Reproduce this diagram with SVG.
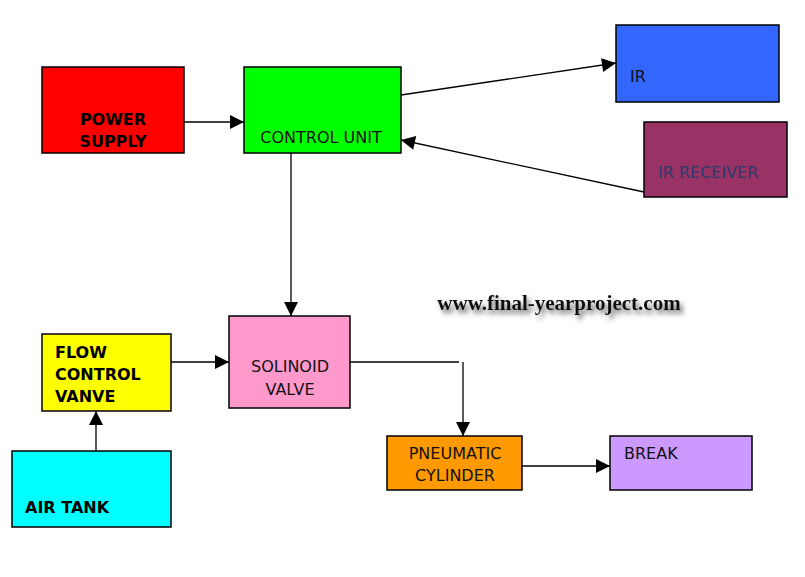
<svg xmlns="http://www.w3.org/2000/svg" width="805" height="577" viewBox="0 0 805 577">
<style>
.b{stroke:#000;stroke-width:1.5}
.t{font-family:"DejaVu Sans",sans-serif;font-size:16px;fill:#111}
.tb{font-family:"DejaVu Sans",sans-serif;font-size:16px;font-weight:bold;fill:#000}
.c{stroke:#000;stroke-width:1.3;fill:none}
</style>
<defs>
<marker id="a" viewBox="0 0 10 10" refX="10" refY="5" markerWidth="18" markerHeight="14" markerUnits="userSpaceOnUse" orient="auto"><path d="M0,0L10,5L0,10z" fill="#000"/></marker>
<filter id="sh" x="-10%" y="-60%" width="120%" height="220%">
<feGaussianBlur in="SourceAlpha" stdDeviation="2.5"/><feOffset dx="3" dy="4" result="o"/>
<feFlood flood-color="#555" flood-opacity="0.9"/><feComposite in2="o" operator="in"/>
<feMerge><feMergeNode/><feMergeNode in="SourceGraphic"/></feMerge>
</filter>
</defs>
<rect width="805" height="577" fill="#fff"/>
<g id="power"><rect class="b" x="42" y="67" width="142" height="86" fill="#ff0000"/><text class="tb" x="113" y="125" text-anchor="middle">POWER</text><text class="tb" x="113" y="147" text-anchor="middle">SUPPLY</text></g>
<g id="control"><rect class="b" x="244" y="67" width="157" height="86" fill="#00ff00"/><text class="t" x="321" y="143" text-anchor="middle">CONTROL UNIT</text></g>
<g id="ir"><rect class="b" x="616" y="25" width="163" height="77" fill="#3366ff"/><text class="t" x="630" y="82">IR</text></g>
<g id="irrx"><rect class="b" x="644" y="122" width="143" height="75" fill="#993366"/><text class="t" x="658" y="178" style="fill:#2a3a6a">IR RECEIVER</text></g>
<g id="sol"><rect class="b" x="229" y="316" width="121" height="92" fill="#ff99cc"/><text class="t" x="290" y="372" text-anchor="middle">SOLINOID</text><text class="t" x="290" y="395" text-anchor="middle">VALVE</text></g>
<g id="flow"><rect class="b" x="42" y="334" width="129" height="77" fill="#ffff00"/><text class="tb" x="55" y="358">FLOW</text><text class="tb" x="55" y="380">CONTROL</text><text class="tb" x="55" y="402">VANVE</text></g>
<g id="air"><rect class="b" x="12" y="451" width="159" height="76" fill="#00ffff"/><text class="tb" x="25" y="513">AIR TANK</text></g>
<g id="pneu"><rect class="b" x="387" y="436" width="135" height="54" fill="#ff9900"/><text class="t" x="455" y="459" text-anchor="middle">PNEUMATIC</text><text class="t" x="455" y="481" text-anchor="middle">CYLINDER</text></g>
<g id="brk"><rect class="b" x="610" y="436" width="142" height="54" fill="#cc99ff"/><text class="t" x="624" y="459">BREAK</text></g>
<g id="connectors">
<path class="c" d="M184,122H244" marker-end="url(#a)"/>
<path class="c" d="M401,95L616,63" marker-end="url(#a)"/>
<path class="c" d="M644,192L401,140" marker-end="url(#a)"/>
<path class="c" d="M291,153V316" marker-end="url(#a)"/>
<path class="c" d="M171,362H229" marker-end="url(#a)"/>
<path class="c" d="M96,451V411" marker-end="url(#a)"/>
<path class="c" d="M350,362H459"/>
<path class="c" d="M463,362V436" marker-end="url(#a)"/>
<path class="c" d="M522,466H610" stroke="#666" marker-end="url(#a)"/>
</g>
<g id="watermark">
<text x="559" y="310" font-family="'Liberation Serif',serif" font-weight="bold" font-size="21" text-anchor="middle" fill="#111" filter="url(#sh)">www.final-yearproject.com</text>
</g>
</svg>
